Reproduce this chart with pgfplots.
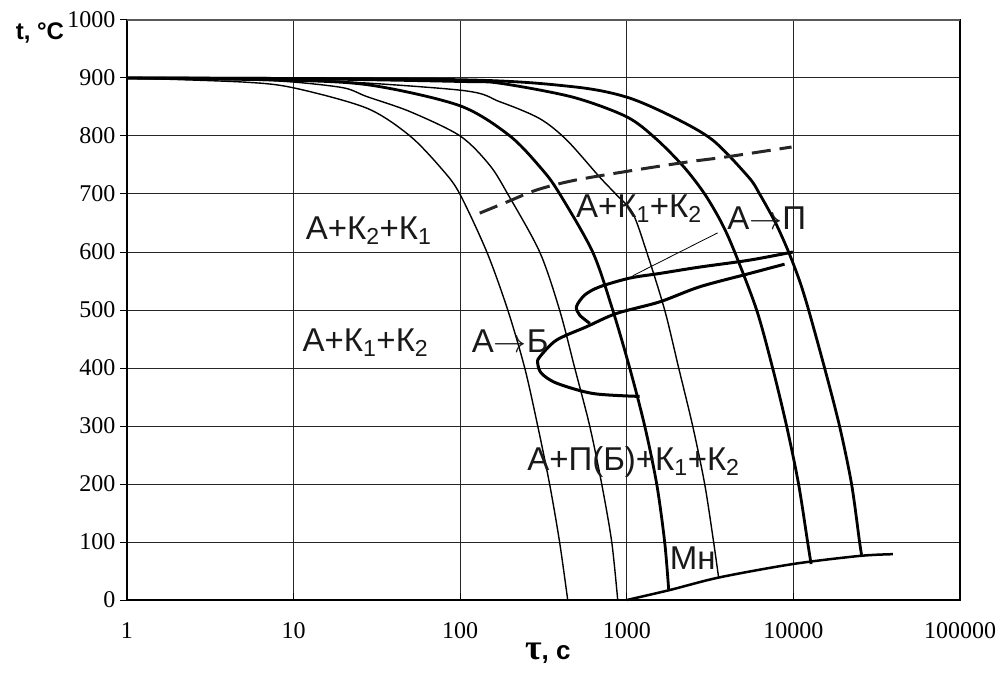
\RequirePackage{fix-cm}
\documentclass[border=0pt]{standalone}
\usepackage{pgfplots}
\pgfplotsset{compat=1.18}
\usepackage{fontspec}
\setmainfont{Liberation Sans}
\newfontfamily\serif{Liberation Serif}
\newcommand\lab{\fontsize{33}{40}\selectfont}
\newcommand\arr{$\rightarrow$}
\begin{document}
\begin{tikzpicture}
\begin{axis}[
  scale only axis, width=833pt, height=580pt,
  xmode=log, log basis x=10,
  xmin=1, xmax=100000, ymin=0, ymax=1000,
  xtick={1,10,100,1000,10000,100000},
  xticklabels={1,10,100,1000,10000,100000},
  ytick={0,100,200,300,400,500,600,700,800,900,1000},
  /pgf/number format/assume math mode=true,
  /pgf/number format/1000 sep={},
  tick label style={font=\serif\fontsize{24}{28}\selectfont},
  yticklabel style={xshift=-8pt},
  xticklabel style={yshift=-19pt},
  tick align=inside,
  ytick style={xshift=-7pt, line width=1pt, black},
  xtick style={line width=0.9pt, black},
  major tick length=7pt, minor tick length=5pt,
  xtick pos=bottom, ytick pos=left,
  grid=major, major grid style={line width=1pt, black!85},
  axis line style={line width=1.2pt, black},
  clip=false,
]
% cooling curves
\addplot[black, line width=1.4pt, smooth] coordinates {(1,900)(5,893)(10,883)(27.5,848)(50,800)(78.7,741)(99.5,700)(144.5,600)(193,500)(244,400)(292,300)(344,200)(395,100)(442,0)};
\addplot[black, line width=1.4pt, smooth] coordinates {(1,900)(5,897)(10,893)(20,883)(27.5,868)(50,842)(100,800)(150,750)(193,700)(300,600)(395,500)(487,400)(599,300)(707,200)(812,100)(882,0)};
\addplot[black, line width=2.8pt, smooth] coordinates {(1,900)(10,896)(30,887)(100,852)(199,800)(313,741)(396,700)(624,600)(823,500)(1041,400)(1281,300)(1512,200)(1688,100)(1783,19)};
\addplot[black, line width=1.4pt, smooth] coordinates {(1,900)(10,898)(100,879)(173,859)(300,830)(436,793)(688,729)(858,700)(1085,667)(1316,600)(1688,500)(2049,400)(2486,300)(2934,200)(3320,100)(3559,38)};
\addplot[black, line width=2.8pt, smooth] coordinates {(1,900)(10,899)(100,894)(173,891)(474,867)(1000,833)(1500,795)(2195,747)(2934,700)(3710,650)(4440,600)(6017,500)(7504,400)(9103,300)(10740,200)(12170,100)(12770,62)};
\addplot[black, line width=2.8pt, smooth] coordinates {(1,900)(100,897)(474,885)(999,867)(1885,833)(3276,793)(5385,729)(6270,700)(7820,650)(9360,600)(10900,550)(12340,500)(15390,400)(18920,300)(22340,200)(24960,100)(25660,78)};
% dashed line
\addplot[black!85, line width=3pt, dash pattern=on 19pt off 9pt, smooth] coordinates {(131,667)(190,686)(288,707)(474,723)(999,739)(2287,755)(3975,764)(9750,781)};
% A->P curve
\addplot[black, line width=3pt, smooth] coordinates {(9930,600)(5460,586)(2737,574)(1575,563)(1041,555)(688,540)(560,526)(499,506)(522,491)(600,477)};
% A->B curve
\addplot[black, line width=3pt, smooth] coordinates {(8850,579)(5460,563)(2737,540)(1575,514)(866,494)(572,471)(378,448)(300,419)(292,408)(307,391)(378,374)(627,356)(1195,351)};
% leader line
\addplot[black, line width=0.8pt] coordinates {(1085,559)(3510,633)};
% Mn line
\addplot[black, line width=2.5pt, smooth] coordinates {(1000,0)(1800,17)(3600,39)(9930,62)(24950,76)(39550,79)};
% top border gray
\draw[line width=2pt, black!65] (rel axis cs:0,1) -- (rel axis cs:1,1);
% labels
\node[anchor=base west, font=\lab, text=black!90, inner sep=0pt] at (axis cs:11.8,621) {А+К\textsubscript{2}+К\textsubscript{1}};
\node[anchor=base west, font=\lab, text=black!90, inner sep=0pt] at (axis cs:11.3,428) {А+К\textsubscript{1}+К\textsubscript{2}};
\node[anchor=base west, font=\lab, text=black!90, inner sep=0pt] at (axis cs:117,426) {А\arr Б};
\node[anchor=base west, font=\lab, text=black!90, inner sep=0pt] at (axis cs:495,660) {А+К\textsubscript{1}+К\textsubscript{2}};
\node[anchor=base west, font=\lab, text=black!90, inner sep=0pt] at (axis cs:4000,638) {А\arr П};
\node[anchor=base west, font=\lab, text=black!90, inner sep=0pt] at (axis cs:252,224) {А+П(Б)+К\textsubscript{1}+К\textsubscript{2}};
\node[anchor=base west, font=\lab, text=black!90, inner sep=0pt] at (axis cs:1808,52) {Мн};
\node[anchor=base east, font=\bfseries\fontsize{24}{28}\selectfont, inner sep=0pt] at (axis cs:0.42,966) {t, °C};
\node[anchor=base, font=\bfseries\fontsize{26}{30}\selectfont, inner sep=0pt] at (axis cs:336,-103) {{\serif\fontsize{36}{40}\selectfont τ}, с};
\end{axis}
\pgfresetboundingbox
\path[use as bounding box] (-127pt,-86pt) rectangle (871pt,600pt);
\end{tikzpicture}
\end{document}
